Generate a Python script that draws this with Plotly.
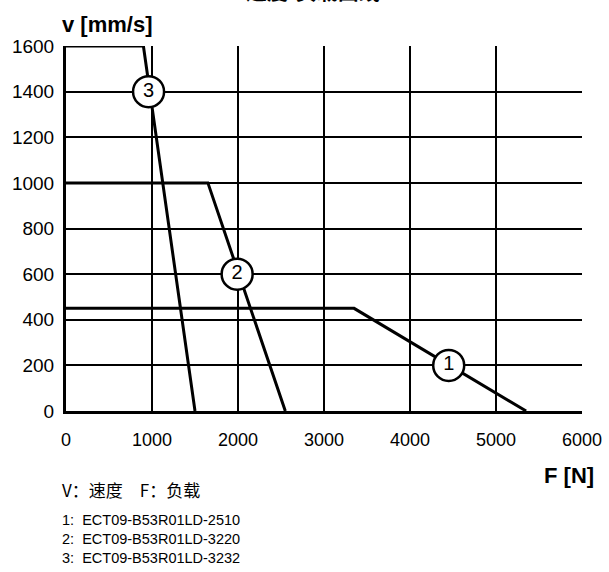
import plotly.graph_objects as go

# Data: speed-load curves
curve1_F = [0, 3350, 5350]
curve1_v = [450, 450, 0]
curve2_F = [0, 1650, 2550]
curve2_v = [1000, 1000, 0]
curve3_F = [0, 900, 1500]
curve3_v = [1600, 1600, 0]

label_names = ["1", "2", "3"]
label_F = [4450, 1990, 960]
label_v = [200, 600, 1400]

x_ticks = [0, 1000, 2000, 3000, 4000, 5000, 6000]
y_ticks = [0, 200, 400, 600, 800, 1000, 1200, 1400, 1600]

models = ["1:  ECT09-B53R01LD-2510", "2:  ECT09-B53R01LD-3220", "3:  ECT09-B53R01LD-3232"]

fig = go.Figure()
for F, v in [(curve1_F, curve1_v), (curve2_F, curve2_v), (curve3_F, curve3_v)]:
    fig.add_trace(go.Scatter(x=F, y=v, mode="lines", line=dict(color="black", width=3),
                             hoverinfo="skip", showlegend=False, cliponaxis=False))

fig.add_trace(go.Scatter(
    x=label_F, y=label_v, mode="markers+text", text=label_names,
    textposition="middle center",
    textfont=dict(family="Liberation Sans, Arial", size=20, color="black"),
    marker=dict(size=31, color="white", line=dict(color="black", width=2.5)),
    showlegend=False, cliponaxis=False, hoverinfo="skip"))

fig.update_xaxes(range=[0, 6000], tickvals=x_ticks, showgrid=True, gridcolor="black", gridwidth=1.5,
                 zeroline=False, showline=True, linecolor="black", linewidth=3, automargin=False,
                 tickfont=dict(family="Liberation Sans, Arial", size=18, color="black"),
                 ticks="outside", ticklen=10, tickcolor="rgba(0,0,0,0)")
fig.update_yaxes(range=[0, 1600], tickvals=y_ticks, showgrid=True, gridcolor="black", gridwidth=1.5,
                 zeroline=False, showline=True, linecolor="black", linewidth=3, automargin=False,
                 tickfont=dict(family="Liberation Sans, Arial", size=19, color="black"),
                 ticks="outside", ticklen=5, tickcolor="rgba(0,0,0,0)")

annotations = [
    dict(text="<b>速度-负载曲线</b>", xref="paper", yref="paper", x=0.5, y=1, xanchor="center",
         yanchor="bottom", yshift=39, xshift=-11, showarrow=False,
         font=dict(family="Noto Sans CJK SC", size=21, color="black")),
    dict(text="<b>v [mm/s]</b>", xref="paper", yref="paper", x=0, y=1, xanchor="left",
         yanchor="bottom", yshift=7, xshift=-6, showarrow=False,
         font=dict(family="Liberation Sans, Arial", size=22, color="black")),
    dict(text="<b>F [N]</b>", xref="paper", yref="paper", x=1, y=0, xanchor="right",
         yanchor="middle", yshift=-64, xshift=14, showarrow=False,
         font=dict(family="Liberation Sans, Arial", size=22, color="black")),
    dict(text="V：速度　F：负载", xref="paper", yref="paper", x=0, y=0, xanchor="left",
         yanchor="middle", yshift=-78, xshift=-6, showarrow=False,
         font=dict(family="Noto Sans CJK SC", size=17, color="black")),
]
for i, m in enumerate(models):
    annotations.append(dict(text=m, xref="paper", yref="paper", x=0, y=0, xanchor="left",
                            yanchor="middle", yshift=-109 - 19 * i, xshift=-6, showarrow=False,
                            font=dict(family="Liberation Sans, Arial", size=14.5, color="black")))

fig.update_layout(width=609, height=572, margin=dict(l=66, r=27, t=46, b=161),
                  plot_bgcolor="white", paper_bgcolor="white", annotations=annotations)

fig.write_html("out.html", config={"displayModeBar": False},
               post_script="document.body.style.margin='0';")
